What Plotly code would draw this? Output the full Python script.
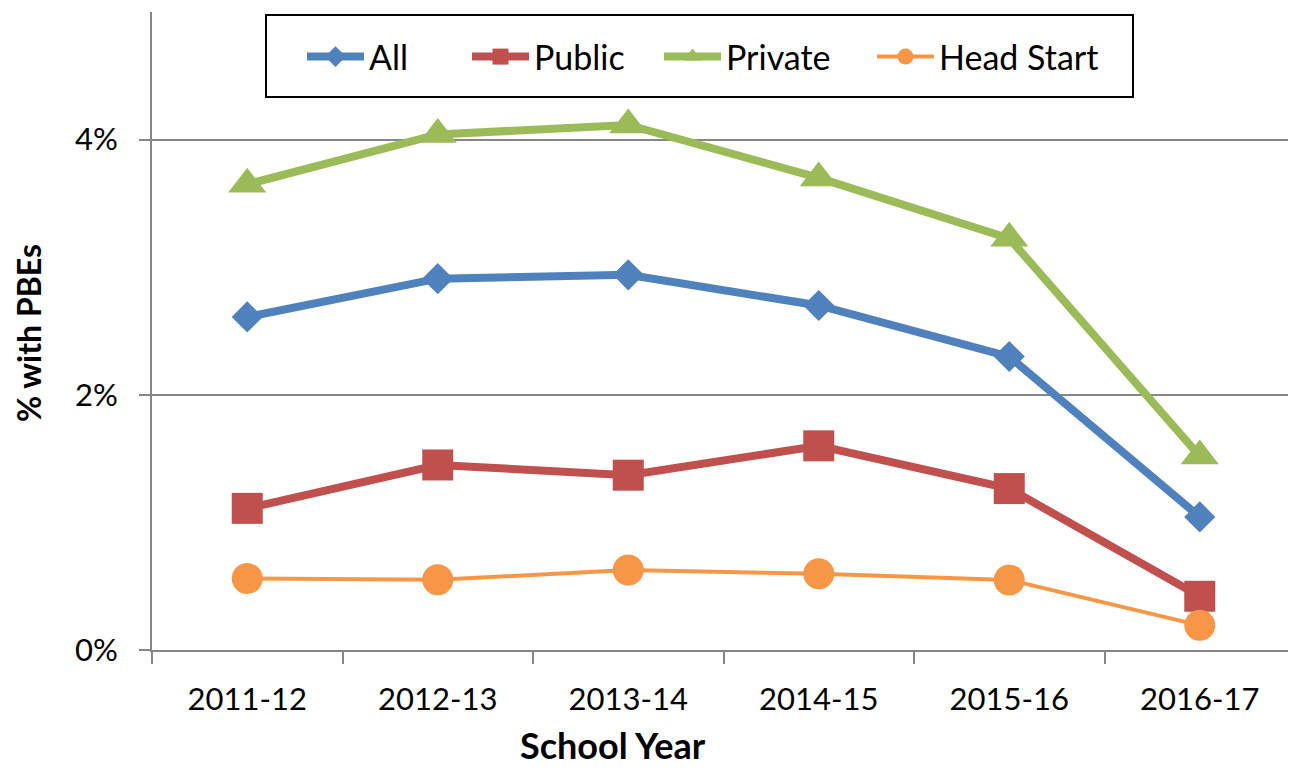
import plotly.graph_objects as go

years = ["2011-12", "2012-13", "2013-14", "2014-15", "2015-16", "2016-17"]
all_vals = [0.0261, 0.0291, 0.0294, 0.0270, 0.0230, 0.01043]
public_vals = [0.0111, 0.0145, 0.0137, 0.0160, 0.01265, 0.00421]
private_vals = [0.0365, 0.0404, 0.04115, 0.0370, 0.03226, 0.0152]
headstart_vals = [0.0056, 0.0055, 0.00627, 0.00597, 0.00549, 0.00193]
y_ticks = [0, 0.02, 0.04]
y_tick_labels = ["0%", "2%", "4%"]

FONT = "Lato"
OFF = 8  # page body margin offset
W, H = 1296 - OFF, 772 - OFF
# plot area in screen pixels
PL, PR, PT, PB = 152, 1295, 12, 650
ML, MR, MT = PL - OFF, W - (PR - OFF), PT - OFF
MB = H - (PB - OFF)
PW = PR - PL
PH = PB - PT

def px_to_paper_x(px):
    return (px - PL) / PW

def px_to_paper_y(py):
    return (PB - py) / PH

series = [
    ("All", all_vals, "#4F81BD", "diamond", 24, 8, "legend", 310),
    ("Public", public_vals, "#C0504D", "square", 31, 8, "legend2", 475),
    ("Private", private_vals, "#9BBB59", "triangle-up", 33, 8, "legend3", 667),
    ("Head Start", headstart_vals, "#F79646", "circle", 31, 4, "legend4", 880),
]

fig = go.Figure()
for name, vals, color, sym, msize, lw, leg, _ in series:
    fig.add_trace(go.Scatter(
        x=years, y=vals, name=name, mode="lines+markers",
        line=dict(color=color, width=lw),
        marker=dict(symbol=sym, size=msize, color=color),
        legend=leg,
    ))

legend_common = dict(
    orientation="h", yanchor="middle", xanchor="left",
    bgcolor="rgba(0,0,0,0)", borderwidth=0,
    font=dict(family=FONT, size=34, color="black"),
    itemwidth=57,
)
layout_legends = {}
for name, vals, color, sym, msize, lw, leg, xpx in series:
    layout_legends[leg] = dict(legend_common, x=px_to_paper_x(xpx - 8), y=px_to_paper_y(57))

fig.update_layout(
    width=W, height=H,
    margin=dict(l=ML, r=MR, t=MT, b=MB, pad=0),
    paper_bgcolor="white", plot_bgcolor="white",
    font=dict(family=FONT, color="black"),
    showlegend=True,
    **layout_legends,
    xaxis=dict(
        type="category", range=[-0.5, 5.5],
        showline=True, linecolor="#868686", linewidth=2,
        ticks="outside", tickson="boundaries", ticklen=12, tickwidth=2, tickcolor="#868686",
        showgrid=False,
        tickfont=dict(family=FONT, size=31, color="black"),
        ticklabelstandoff=21,
    ),
    yaxis=dict(
        range=[0, 0.05],
        tickvals=y_ticks, ticktext=y_tick_labels,
        showline=True, linecolor="#868686", linewidth=2,
        ticks="outside", ticklen=11, tickwidth=2, tickcolor="#868686",
        showgrid=True, gridcolor="#868686", gridwidth=2,
        zeroline=False,
        tickfont=dict(family=FONT, size=31, color="black"),
        ticklabelstandoff=15,
    ),
    shapes=[dict(
        type="rect", xref="paper", yref="paper",
        x0=px_to_paper_x(266), x1=px_to_paper_x(1133),
        y0=px_to_paper_y(97), y1=px_to_paper_y(15),
        line=dict(color="black", width=2), fillcolor="white", layer="below",
    )],
    annotations=[
        dict(text="<b>School Year</b>", xref="paper", yref="paper",
             x=px_to_paper_x(613), y=px_to_paper_y(745), xanchor="center", yanchor="middle",
             showarrow=False, font=dict(family=FONT, size=36, color="black")),
        dict(text="<b>% with PBEs</b>", xref="paper", yref="paper",
             x=px_to_paper_x(28), y=px_to_paper_y(333), xanchor="center", yanchor="middle",
             textangle=-90, showarrow=False, font=dict(family=FONT, size=32, color="black")),
    ],
)

fig.write_html("out.html")
